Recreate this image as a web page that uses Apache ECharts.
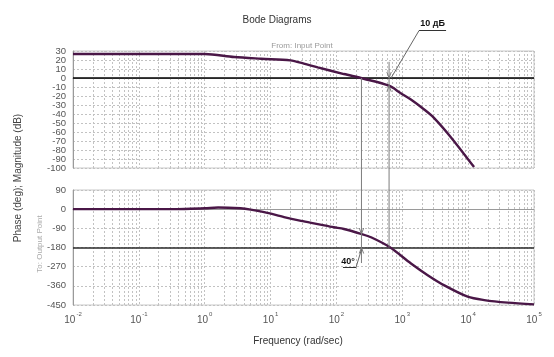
<!DOCTYPE html>
<html><head><meta charset="utf-8">
<script src="https://cdn.jsdelivr.net/npm/echarts@6/dist/echarts.min.js"></script>
<style>html,body{margin:0;padding:0;background:#fff}#c{width:554px;height:357px}</style>
</head><body><div id="c"></div>
<script>
// ---- data ----
const magFreq = [0.01, 1, 2.8, 7.2, 20, 32, 52, 130, 260, 630, 950, 1350, 2150, 3000, 5500, 12300];
const magDb   = [26.7, 26.7, 23.3, 21.4, 19.6, 16, 11.8, 4.4, -0.8, -8.6, -17, -24, -35, -44, -66, -99];
const phaseFreq = [0.01, 0.3, 0.5, 1, 1.6, 3.5, 5, 8, 16, 29, 52, 91, 130, 236, 335, 640, 1355, 2430, 4350, 9840, 17600, 39800, 100000];
const phaseDeg  = [0, 0, 1, 4, 8, 4, -2, -14, -37, -55, -70, -85, -93, -116, -132, -178, -255, -310, -358, -411, -427, -439, -447];
const decadeExponents = [-2, -1, 0, 1, 2, 3, 4, 5];
const magRange = [-100, 30];
const phaseRange = [-450, 90];
const gainCrossFreq = 240;   // |G| = 0 dB
const phaseCrossFreq = 630;  // phase = -180
const gainMarginLabel = '10 дБ';
const phaseMarginLabel = '40°';
const titleText = 'Bode Diagrams';
const fromText = 'From: Input Point';
const toText = 'To: Output Point';
const yTitle = 'Phase (deg); Magnitude (dB)';
const xTitle = 'Frequency (rad/sec)';

// ---- helpers ----
function interpLog(fs, vs, f) {
  const lf = Math.log10(f);
  for (let i = 0; i < fs.length - 1; i++) {
    const a = Math.log10(fs[i]), b = Math.log10(fs[i + 1]);
    if (lf >= a && lf <= b) return vs[i] + (vs[i + 1] - vs[i]) * (lf - a) / (b - a);
  }
  return vs[vs.length - 1];
}
const minorFreqs = [];
for (let e = decadeExponents[0]; e < decadeExponents[decadeExponents.length - 1]; e++)
  for (let k = 2; k <= 9; k++) minorFreqs.push(k * Math.pow(10, e));

const gridColor = '#c2c2c2';
const labelColor = '#555';
const curveColor = '#4a1747';
const fontFam = 'Arial, "Liberation Sans", sans-serif';

const chart = echarts.init(document.getElementById('c'), null, {renderer: 'canvas'});
const xBase = {
  type: 'log', logBase: 10,
  min: Math.pow(10, decadeExponents[0]), max: Math.pow(10, decadeExponents[decadeExponents.length - 1]),
  splitNumber: decadeExponents.length - 1,
  axisLine: {show: true, lineStyle: {color: '#9a9a9a'}},
  axisTick: {show: false},
  splitLine: {show: true, lineStyle: {color: gridColor, type: [2, 2], width: 1}}
};
const minorMark = {
  silent: true, symbol: 'none', label: {show: false},
  lineStyle: {color: gridColor, type: [2, 2], width: 1},
  data: minorFreqs.map(f => ({xAxis: f}))
};
const yLabelStyle = {color: labelColor, fontSize: 9.5, fontFamily: fontFam, margin: 7};
const yBase = {
  type: 'value',
  axisLine: {show: true, lineStyle: {color: '#9a9a9a'}},
  axisTick: {show: false},
  axisLabel: Object.assign({}, yLabelStyle),
  splitLine: {show: true, lineStyle: {color: gridColor, type: [2, 2], width: 1}}
};

chart.setOption({
  animation: false,
  backgroundColor: '#fff',
  textStyle: {fontFamily: fontFam},
  grid: [
    {left: 73, width: 461, top: 51, height: 117, show: true, borderColor: '#c8c8c8', borderWidth: 1},
    {left: 73, width: 461, top: 190, height: 115, show: true, borderColor: '#c8c8c8', borderWidth: 1}
  ],
  xAxis: [
    Object.assign({}, xBase, {gridIndex: 0, axisLabel: {show: false}}),
    Object.assign({}, xBase, {gridIndex: 1,
      axisLabel: {
        show: true, margin: 6,
        formatter: v => '{b|10}{s|' + Math.round(Math.log10(v)) + '}',
        rich: {
          b: {fontSize: 10, color: labelColor, fontFamily: fontFam, verticalAlign: 'bottom', lineHeight: 14},
          s: {fontSize: 6, color: labelColor, fontFamily: fontFam, verticalAlign: 'top', lineHeight: 14, padding: [0, 0, 0, 1]}
        }
      }})
  ],
  yAxis: [
    Object.assign({}, yBase, {gridIndex: 0, min: magRange[0], max: magRange[1], interval: 10,
      axisLabel: Object.assign({}, yLabelStyle, {showMinLabel: false, showMaxLabel: false})}),
    Object.assign({}, yBase, {gridIndex: 1, min: phaseRange[0], max: phaseRange[1], interval: 90}),
    // overlay axis carrying only the end labels of the magnitude scale
    {type: 'value', gridIndex: 0, position: 'left', min: magRange[0], max: magRange[1], interval: 10,
      axisLine: {show: false}, axisTick: {show: false}, splitLine: {show: false},
      axisLabel: Object.assign({}, yLabelStyle, {showMinLabel: true, showMaxLabel: true,
        formatter: v => (v === magRange[0] || v === magRange[1]) ? String(v) : ''})}
  ],
  title: [
    {text: titleText, left: 272, top: 10, textAlign: 'center',
      textStyle: {fontSize: 10, fontWeight: 'normal', color: '#333', fontFamily: fontFam}},
    {text: fromText, left: 297, top: 37, textAlign: 'center',
      textStyle: {fontSize: 8, fontWeight: 'normal', color: '#9a9a9a', fontFamily: fontFam}},
    {text: xTitle, left: 293, top: 331, textAlign: 'center',
      textStyle: {fontSize: 10, fontWeight: 'normal', color: '#333', fontFamily: fontFam}}
  ],
  series: [
    {type: 'line', xAxisIndex: 0, yAxisIndex: 0, data: [], z: 1, markLine: minorMark},
    {type: 'line', xAxisIndex: 1, yAxisIndex: 1, data: [], z: 1, markLine: minorMark},
    {type: 'line', xAxisIndex: 0, yAxisIndex: 0, z: 2, data: [], silent: true,
      markLine: {silent: true, symbol: 'none', label: {show: false},
        lineStyle: {color: '#000', type: 'solid', width: 1.5}, data: [{yAxis: 0}]}},
    {type: 'line', xAxisIndex: 1, yAxisIndex: 1, z: 2, data: [], silent: true,
      markLine: {silent: true, symbol: 'none', label: {show: false},
        lineStyle: {color: '#2a2a2a', type: 'solid', width: 1.5}, data: [{yAxis: -180}]}},
    {type: 'line', name: 'Magnitude', xAxisIndex: 0, yAxisIndex: 0, z: 5, smooth: 0.3,
      showSymbol: false, lineStyle: {color: curveColor, width: 2.4},
      data: magFreq.map((f, i) => [f, magDb[i]])},
    {type: 'line', name: 'Phase', xAxisIndex: 1, yAxisIndex: 1, z: 5, smooth: 0.3,
      showSymbol: false, lineStyle: {color: curveColor, width: 2.4},
      data: phaseFreq.map((f, i) => [f, phaseDeg[i]])}
  ]
});

// ---- annotations positioned through the axes ----
function px(g, f, v) { return chart.convertToPixel({xAxisIndex: g, yAxisIndex: g}, [f, v]); }
const annoStroke = {stroke: '#7d7d7d', lineWidth: 1};
const g = [];
function seg(a, b, style) { g.push({type: 'line', z: 20, shape: {x1: a[0], y1: a[1], x2: b[0], y2: b[1]}, style: Object.assign({}, annoStroke, style || {})}); }
function arrow(p, dir) { // dir 1: pointing down, -1: pointing up
  g.push({type: 'polyline', z: 20, shape: {points: [[p[0] - 2.2, p[1] - 6 * dir], [p[0], p[1]], [p[0] + 2.2, p[1] - 6 * dir]]}, style: annoStroke});
}
// gain margin at phase crossover
const gmTop = px(0, phaseCrossFreq, 18);
const gmZero = px(0, phaseCrossFreq, 0);
const gmCurve = px(0, phaseCrossFreq, interpLog(magFreq, magDb, phaseCrossFreq));
const gmBottom = px(1, phaseCrossFreq, -180);
seg(gmTop, gmBottom);
arrow(gmZero, 1);
arrow(gmCurve, -1);
const gmU1 = [gmZero[0] + 30, gmZero[1] - 47.5], gmU2 = [gmU1[0] + 27, gmU1[1]];
seg([gmZero[0] + 2, gmZero[1]], gmU1, {stroke: '#666'});
seg(gmU1, gmU2, {stroke: '#333'});
g.push({type: 'text', z: 21, style: {text: gainMarginLabel, x: (gmU1[0] + gmU2[0]) / 2, y: gmU1[1] - 2,
  align: 'center', verticalAlign: 'bottom', fontSize: 9, fontWeight: 'bold', fontFamily: fontFam, fill: '#111'}});
// phase margin at gain crossover
const pmTop = px(0, gainCrossFreq, 0);
const pmCurve = px(1, gainCrossFreq, interpLog(phaseFreq, phaseDeg, gainCrossFreq));
const pm180 = px(1, gainCrossFreq, -180);
const pmBottom = px(1, gainCrossFreq, -253);
seg(pmTop, pmBottom);
arrow(pmCurve, 1);
arrow(pm180, -1);
const pmU1 = [pm180[0] - 5.5, pm180[1] + 20], pmU2 = [pmU1[0] - 13, pmU1[1]];
seg([pm180[0], pm180[1] + 2], pmU1, {stroke: '#666'});
seg(pmU1, pmU2, {stroke: '#333'});
g.push({type: 'text', z: 21, style: {text: phaseMarginLabel, x: pmU1[0] - 8, y: pmU1[1] - 1,
  align: 'center', verticalAlign: 'bottom', fontSize: 9, fontWeight: 'bold', fontFamily: fontFam, fill: '#111'}});
// rotated axis titles
g.push({type: 'text', z: 21, x: 18, y: 178, rotation: Math.PI / 2,
  style: {text: yTitle, align: 'center', verticalAlign: 'middle', fontSize: 10, fontFamily: fontFam, fill: '#444'}});
g.push({type: 'text', z: 21, x: 40, y: 244, rotation: Math.PI / 2,
  style: {text: toText, align: 'center', verticalAlign: 'middle', fontSize: 8, fontFamily: fontFam, fill: '#aaa'}});
chart.setOption({graphic: g});
</script></body></html>
